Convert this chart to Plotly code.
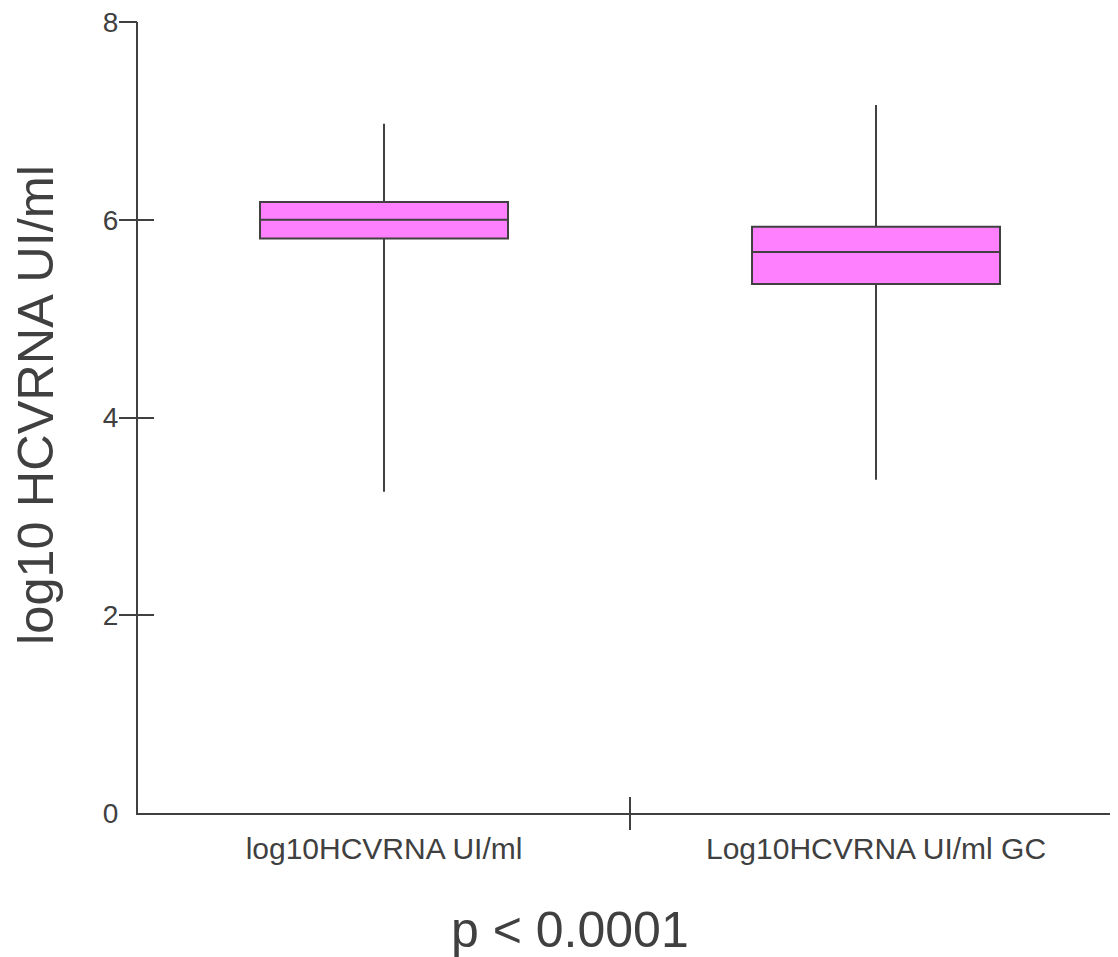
import plotly.graph_objects as go

# ---- data ----
categories = ["log10HCVRNA UI/ml", "Log10HCVRNA UI/ml GC"]
positions = [0, 1]
lower_whisker = [3.25, 3.37]
q1_vals = [5.81, 5.35]
median_vals = [6.00, 5.675]
q3_vals = [6.18, 5.93]
upper_whisker = [6.97, 7.16]
y_tick_vals = [0, 2, 4, 6, 8]
y_tick_marks = [2, 4, 6, 8]
x_boundary_ticks = [0.5]
y_title = "log10 HCVRNA UI/ml"
x_title = "p < 0.0001"

INK = "#404040"
FONT = "Liberation Sans, Arial, sans-serif"

fig = go.Figure()
fig.add_trace(go.Box(
    x=positions,
    q1=q1_vals,
    median=median_vals,
    q3=q3_vals,
    lowerfence=lower_whisker,
    upperfence=upper_whisker,
    width=0.504,
    whiskerwidth=0,
    fillcolor="#ff80ff",
    line=dict(color=INK, width=2),
    boxpoints=False,
    hoverinfo="skip",
    showlegend=False,
))

# empty traces so the overlaid tick-only axes are drawn
for xa, ya in [("x2", "y"), ("x3", "y"), ("x", "y2"), ("x", "y3")]:
    fig.add_trace(go.Scatter(x=[], y=[], xaxis=xa, yaxis=ya,
                             showlegend=False, hoverinfo="skip"))

xr = [-0.5, 1.4756]
yr = [0, 8]

tick_axis = dict(tickmode="array", tickwidth=2, tickcolor=INK,
                 showticklabels=False, showgrid=False, zeroline=False,
                 showline=False)

fig.update_layout(
    width=1102, height=949,
    margin=dict(l=130, r=0, t=14, b=144),
    paper_bgcolor="white", plot_bgcolor="white",
    font=dict(family=FONT, color=INK),
    xaxis=dict(
        range=xr, tickmode="array", tickvals=positions, ticktext=categories,
        ticks="", showgrid=False, zeroline=False,
        showline=True, linecolor=INK, linewidth=2,
        tickfont=dict(family=FONT, size=30, color=INK),
        ticklabelstandoff=8,
    ),
    xaxis2=dict(range=xr, overlaying="x", anchor="y", tickvals=x_boundary_ticks,
                ticks="outside", ticklen=16, **tick_axis),
    xaxis3=dict(range=xr, overlaying="x", anchor="y", tickvals=x_boundary_ticks,
                ticks="inside", ticklen=16, **tick_axis),
    yaxis=dict(
        range=yr, tickmode="array", tickvals=y_tick_vals, ticks="",
        showgrid=False, zeroline=False,
        showline=True, linecolor=INK, linewidth=2,
        tickfont=dict(family=FONT, size=28, color=INK),
        ticklabelstandoff=12, ticklabeloverflow="allow",
    ),
    yaxis2=dict(range=yr, overlaying="y", anchor="x", tickvals=y_tick_marks,
                ticks="outside", ticklen=18, **tick_axis),
    yaxis3=dict(range=yr, overlaying="y", anchor="x", tickvals=y_tick_marks,
                ticks="inside", ticklen=16, **tick_axis),
    annotations=[
        dict(text=y_title, xref="paper", yref="paper", x=-0.1049, y=0.516,
             xanchor="center", yanchor="middle", textangle=-90, showarrow=False,
             font=dict(family=FONT, size=50.5, color=INK)),
        dict(text=x_title, xref="paper", yref="paper", x=0.444, y=-0.148,
             xanchor="center", yanchor="middle", showarrow=False,
             font=dict(family=FONT, size=50, color=INK)),
    ],
)

fig.write_html("out.html")
